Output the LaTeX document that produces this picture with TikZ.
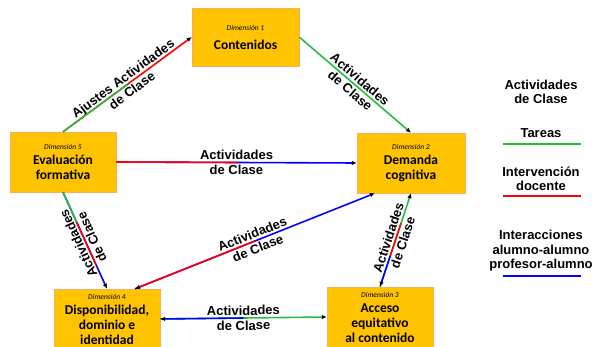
\documentclass[tikz,border=0pt]{standalone}
\usepackage{fontspec}
\setmainfont{Liberation Sans}
\newfontfamily\boxfont{Carlito}
\usetikzlibrary{calc,arrows.meta}

\definecolor{boxfill}{RGB}{255,195,0}
\definecolor{boxedge}{RGB}{245,175,95}
\definecolor{tarea}{RGB}{40,190,60}
\definecolor{interv}{RGB}{255,0,0}
\definecolor{interac}{RGB}{0,0,255}

\newcommand{\dimlab}[1]{{\fontsize{7.5}{8}\selectfont\mdseries\itshape Dimensión #1}}

\begin{document}
\begin{tikzpicture}[x=1pt,y=-1pt]

\tikzset{dimbox/.style={draw=boxedge, fill=boxfill, rectangle, minimum height=60pt, minimum width=106pt, inner sep=0pt, align=center, font=\boxfont\fontsize{13.5}{15}\selectfont\bfseries}}
\tikzset{actlabel/.style={midway, sloped, align=center, font=\bf\fontsize{13}{15}\selectfont}}
\tikzset{legtext/.style={align=center, font=\bf\fontsize{13}{14.5}\selectfont}}
\tikzset{tarealine/.style={draw=tarea, line width=1.6pt}}
\tikzset{intervline/.style={draw=interv, line width=1.6pt}}
\tikzset{interacline/.style={draw=interac, line width=1.6pt}}
\tikzset{endtip/.style={-{Latex[color=black,length=5pt,width=4.5pt]}}}
\tikzset{starttip/.style={{Latex[color=black,length=5pt,width=4.5pt]}-}}

\useasboundingbox (0,0) rectangle (595,347);

% the five dimensions
\node[dimbox, minimum height=58pt, minimum width=107pt] at (245.5,37) (cont) {\dimlab{1}\\[4pt]Contenidos};
\node[dimbox] at ( 63,162) (eval) {\dimlab{5}\\Evaluación\\formativa};
\node[dimbox, minimum width=108pt] at (411,163) (dem) {\dimlab{2}\\Demanda\\cognitiva};
\node[dimbox] at (107,319) (disp) {\dimlab{4}\\Disponibilidad,\\dominio e\\identidad};
\node[dimbox] at (380,317) (acc) {\dimlab{3}\\Acceso\\equitativo\\al contenido};

\coordinate (disp-ne) at ([xshift=28pt]disp.north);
\coordinate (dem-sw) at ([xshift=-36pt]dem.south);

% Evaluacion -> Contenidos
\draw[intervline, endtip] (eval.north) -- (cont.west) node[actlabel] {Ajustes Actividades\\de Clase};
\draw[tarealine] (eval.north) -- ($(eval.north)!0.5!(cont.west)$);

% Contenidos -> Demanda
\draw[tarealine, endtip] (cont.east) -- (dem.north) node[actlabel] {Actividades\\de Clase};

% Evaluacion -> Demanda
\draw[interacline, endtip] (eval.east) -- (dem.west) node[actlabel] {Actividades\\de Clase};
\draw[intervline] (eval.east) -- ($(eval.east)!0.5!(dem.west)$);

% Disponibilidad <-> Demanda
\draw[interacline, endtip] (disp-ne) -- (dem-sw) node[actlabel] {Actividades\\de Clase};
\draw[intervline, starttip] (disp-ne) -- ($(disp-ne)!0.5!(dem-sw)$);

% Evaluacion -> Disponibilidad
\draw[interacline, starttip] (disp.north) -- (eval.south) node[actlabel, allow upside down] {Actividades\\de Clase};
\draw[intervline] ($(disp.north)!0.25!(eval.south)$) -- ($(disp.north)!0.69!(eval.south)$);
\draw[tarealine] ($(disp.north)!0.69!(eval.south)$) -- (eval.south);

% Acceso <-> Demanda
\draw[tarealine, endtip] (acc.north) -- (dem.south) node[actlabel] {Actividades\\de Clase};
\draw[interacline, starttip] (acc.north) -- ($(acc.north)!0.33!(dem.south)$);
\draw[intervline] ($(acc.north)!0.33!(dem.south)$) -- ($(acc.north)!0.68!(dem.south)$);

% Disponibilidad <-> Acceso
\draw[tarealine, endtip] (disp.east) -- (acc.west) node[actlabel] {Actividades\\de Clase};
\draw[interacline, starttip] (disp.east) -- ($(disp.east)!0.5!(acc.west)$);

% legend
\node[legtext] at (541,92) (leyenda) {Actividades\\de Clase};
\node[legtext] at (541,133) (tareas) {Tareas};
\draw[tarealine] (503,144) -- (581,144);
\node[legtext] at (541,179) (interv) {Intervención\\docente};
\draw[intervline] (503,196) -- (581,196);
\node[legtext] at (541,251) (interac) {Interacciones\\alumno-alumno\\profesor-alumno};
\draw[interacline] (503,276) -- (581,276);

\end{tikzpicture}
\end{document}
